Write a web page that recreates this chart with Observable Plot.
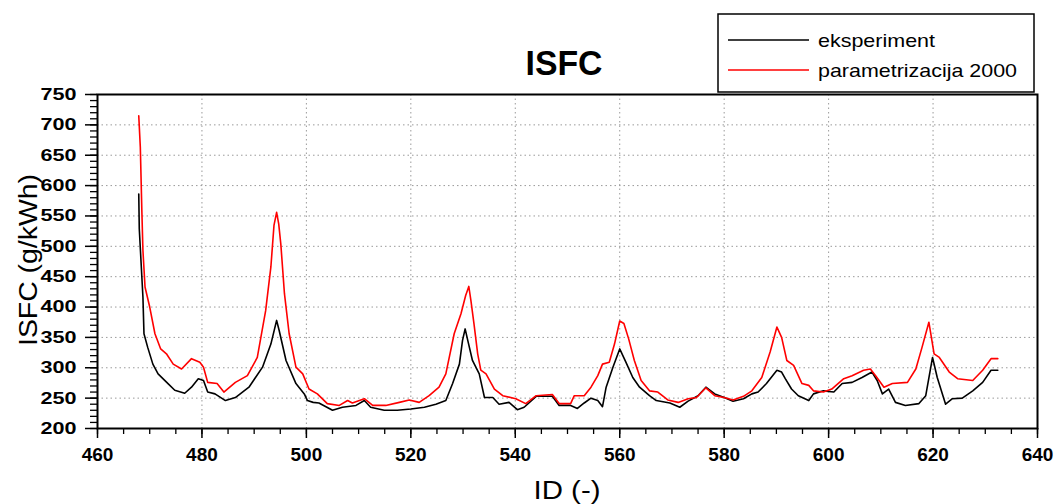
<!DOCTYPE html>
<html><head><meta charset="utf-8">
<script src="https://cdn.jsdelivr.net/npm/d3@7"></script>
<script src="https://cdn.jsdelivr.net/npm/@observablehq/plot@0.6"></script>
<style>body{margin:0;background:#fff;}</style>
</head><body><div id="chart"></div>
<script>
const titleText = "ISFC";
const xLabel = "ID (-)";
const yLabel = "ISFC (g/kWh)";
const seriesNames = ["eksperiment", "parametrizacija 2000"];
const seriesColors = ["#000000", "#ff0000"];
const xTicks = [460, 480, 500, 520, 540, 560, 580, 600, 620, 640];
const yTicks = [200, 250, 300, 350, 400, 450, 500, 550, 600, 650, 700, 750];

const expX = [467.9,468.0,468.7,468.9,469.6,470.6,471.6,473.5,474.8,476.7,478.0,479.3,480.3,481.1,482.5,484.5,486.4,489.0,491.6,493.2,494.3,494.8,496.1,498.0,499.6,500.2,501.3,502.4,505.0,506.9,509.5,511.1,512.3,514.9,517.4,520.0,522.6,524.8,526.7,528.0,529.3,529.9,530.4,530.9,531.8,533.1,534.1,535.7,536.9,538.8,540.4,541.7,544.0,547.1,548.4,550.6,551.9,553.2,554.5,555.8,556.7,557.4,558.7,560.0,561.2,562.5,563.8,565.7,567.0,569.6,571.5,573.1,575.0,576.5,578.2,580.0,581.7,583.7,585.3,586.5,588.1,590.1,591.0,591.7,592.9,594.2,596.2,597.1,599.0,601.0,602.6,604.5,606.4,608.3,609.3,610.3,611.5,612.8,614.7,617.3,618.6,619.9,620.8,622.4,623.7,625.6,627.6,629.5,631.1,632.4];
const expY = [586,529,416,356,334,306,290,274,263,258,268,282,279,260,257,246,251,268,301,339,378,361,312,274,257,246,243,242,230,235,238,246,235,230,230,232,235,240,246,274,306,345,364,345,312,290,251,251,240,243,231,235,253,253,238,238,233,242,250,246,236,268,301,331,309,284,268,254,246,242,235,245,254,268,257,251,245,249,257,260,274,296,293,282,265,254,246,257,262,260,274,276,284,293,279,257,265,243,238,241,254,317,284,240,249,250,262,276,296,296];

const parX = [467.9,468.2,468.5,468.7,469.1,470.0,471.0,472.1,473.2,474.5,476.1,478.0,479.6,480.3,481.1,482.9,484.2,486.4,488.7,490.6,492.2,493.2,493.8,494.3,494.7,495.1,495.8,496.7,498.0,499.3,500.5,502.1,504.0,506.3,507.9,508.8,511.1,512.7,515.2,517.8,519.7,521.6,523.5,525.4,526.7,528.3,529.6,530.5,531.1,531.5,532.1,532.8,533.4,534.4,536.0,537.6,540.1,542.0,544.0,547.1,548.4,550.6,551.3,553.2,554.5,555.8,556.7,558.0,559.0,560.0,560.8,561.7,562.8,564.1,565.7,567.3,569.2,571.2,573.1,574.7,576.5,578.2,580.0,581.7,583.7,585.3,587.2,588.8,590.1,591.0,592.0,593.3,594.9,596.2,597.1,599.0,600.6,602.9,604.5,606.7,608.0,609.0,610.6,612.2,615.1,616.7,617.9,619.2,620.2,621.2,623.1,624.7,627.6,629.5,631.1,632.4];
const parY = [715,663,556,493,433,400,356,331,323,306,298,315,309,301,276,274,260,276,287,317,394,466,535,556,537,504,422,356,301,290,265,257,241,238,246,242,249,238,238,243,247,243,254,268,290,356,389,419,434,411,372,323,296,290,265,254,249,241,254,256,241,241,254,254,268,287,306,309,339,377,373,348,312,279,262,260,247,243,249,251,267,254,251,247,253,262,284,326,367,350,312,304,274,271,262,260,265,282,287,296,298,287,268,274,276,298,334,375,323,317,293,282,279,296,315,315];

const data = [
  ...expX.map((x, i) => ({x, y: expY[i], s: seriesNames[0]})),
  ...parX.map((x, i) => ({x, y: parY[i], s: seriesNames[1]}))
];

const font = "'Liberation Sans', Arial, sans-serif";

const plot = Plot.plot({
  width: 1054, height: 504,
  marginLeft: 97, marginRight: 17, marginTop: 94, marginBottom: 76,
  style: {fontFamily: font, background: "#fff", color: "#000"},
  x: {domain: [460, 640], label: null},
  y: {domain: [200, 750], label: null},
  color: {domain: seriesNames, range: seriesColors},
  marks: [
    Plot.gridX(xTicks, {stroke: "#9a9a9a", strokeOpacity: 1, strokeDasharray: "1.5,3"}),
    Plot.gridY(yTicks, {stroke: "#9a9a9a", strokeOpacity: 1, strokeDasharray: "1.5,3"}),
    Plot.axisX(d3.range(460, 641, 5), {tickSize: 6, tickFormat: () => "", label: null, strokeWidth: 1.3}),
    Plot.axisX(xTicks, {tickSize: 10, tickPadding: 9, fontSize: 19, fontWeight: "bold", label: null, strokeWidth: 1.5}),
    Plot.axisY(d3.range(200, 751, 10), {tickSize: 7, tickFormat: () => "", label: null, strokeWidth: 1.3}),
    Plot.axisY(yTicks, {tickSize: 12, tickPadding: 9, fontSize: 17, fontWeight: "bold", label: null, strokeWidth: 1.5}),
    Plot.line(data, {x: "x", y: "y", z: "s", stroke: "s", strokeWidth: 1.6}),
    Plot.frame({stroke: "#000", strokeWidth: 2})
  ]
});

document.getElementById("chart").appendChild(plot);
const svg = d3.select(plot);
svg.selectAll("g[aria-label='y-axis tick label'] text")
  .attr("textLength", 36).attr("lengthAdjust", "spacingAndGlyphs");

// title
svg.append("text").attr("x", 564).attr("y", 75).attr("text-anchor", "middle")
  .attr("font-family", font).attr("font-weight", "bold").attr("font-size", 35)
  .attr("textLength", 77).attr("lengthAdjust", "spacingAndGlyphs").text(titleText);

// axis labels
svg.append("text").attr("x", 567).attr("y", 499).attr("text-anchor", "middle")
  .attr("font-family", font).attr("font-size", 25)
  .attr("textLength", 67).attr("lengthAdjust", "spacingAndGlyphs").text(xLabel);
svg.append("text").attr("transform", "translate(37,260) rotate(-90)").attr("text-anchor", "middle")
  .attr("font-family", font).attr("font-size", 26)
  .attr("textLength", 172).attr("lengthAdjust", "spacingAndGlyphs").text(yLabel);

// legend
const lg = svg.append("g");
lg.append("rect").attr("x", 718).attr("y", 14).attr("width", 316).attr("height", 78)
  .attr("fill", "#fff").attr("stroke", "#000").attr("stroke-width", 1.5);
const legendLens = [117, 199];
seriesNames.forEach((name, i) => {
  const yy = 40 + i * 30;
  lg.append("line").attr("x1", 728).attr("x2", 809).attr("y1", yy).attr("y2", yy)
    .attr("stroke", seriesColors[i]).attr("stroke-width", 1.6);
  lg.append("text").attr("x", 818).attr("y", yy + 7).attr("text-anchor", "start")
    .attr("font-family", font).attr("font-size", 19)
    .attr("textLength", legendLens[i]).attr("lengthAdjust", "spacingAndGlyphs")
    .text(name);
});
</script>
</body></html>
